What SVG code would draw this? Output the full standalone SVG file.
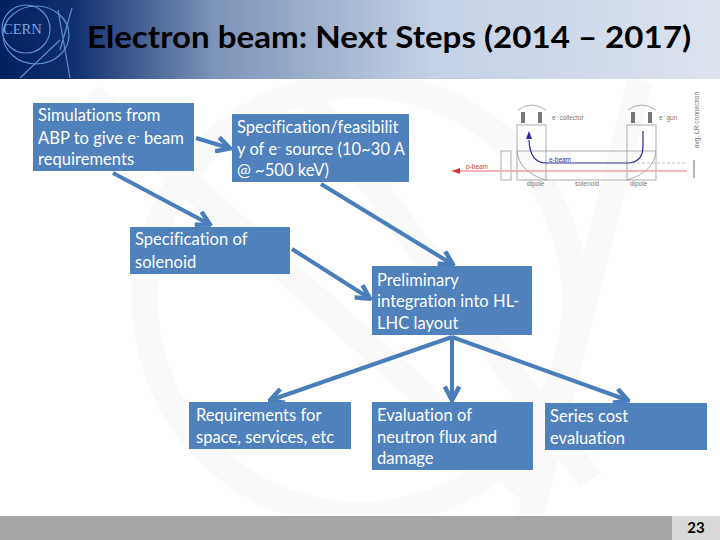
<svg xmlns="http://www.w3.org/2000/svg" width="720" height="540" viewBox="0 0 720 540">
<style>
.box{fill:#4f81bd}
.t{font-family:Lato,"Open Sans",sans-serif;font-size:16.5px;fill:#fff;letter-spacing:.04px;transform:translateY(.7px)}
.sup{font-size:10px}
.c{fill:none;stroke:#4a7ebb;stroke-width:4;marker-end:url(#ah)}
.logo{fill:none;stroke:#5f8fd0;stroke-width:1.2}
.wm{fill:none;stroke:#fafafa;stroke-width:26}
.d{fill:none;stroke:#999;stroke-width:.8}
.s{font-family:"Liberation Sans",sans-serif;font-size:6.5px;fill:#777}
</style>
<defs>
<linearGradient id="hd" x1="0" x2="1" y1="0" y2="0">
<stop offset="0" stop-color="#002060"/><stop offset=".1" stop-color="#0f2f6f"/><stop offset=".3" stop-color="#7f94ba"/><stop offset=".6" stop-color="#c4d0e4"/><stop offset="1" stop-color="#dde4f0"/>
</linearGradient>
<marker id="ah" markerUnits="userSpaceOnUse" markerWidth="18" markerHeight="18" refX="13" refY="8" orient="auto" viewBox="0 0 16 16">
<path d="M2 1.5L14 8L2 14.5" fill="none" stroke="#4a7ebb" stroke-width="4"/>
</marker>
</defs>
<rect width="720" height="540" fill="#fff"/>
<g id="watermark">
<ellipse cx="360" cy="300" rx="215" ry="215" class="wm"/>
<path class="wm" d="M90 95L540 500M640 80L530 520M300 85L590 480"/>
</g>
<g id="header">
<rect width="720" height="79" fill="url(#hd)"/>
<ellipse cx="26" cy="29" rx="24" ry="24" class="logo"/>
<ellipse cx="36" cy="35" rx="33" ry="29" class="logo"/>
<path class="logo" d="M20 78L60 40M58 10L70 78M72 8L60 50"/>
<text x="3" y="34" font-family="Liberation Serif,serif" font-size="14.5" fill="#7da6e0">CERN</text>
<text x="87" y="48" font-family="Lato,sans-serif" font-size="30" font-weight="700" fill="#000" textLength="604" lengthAdjust="spacingAndGlyphs">Electron beam: Next Steps (2014 – 2017)</text>
</g>
<g id="beam-figure">
<rect x="517" y="125" width="29" height="55" class="d"/>
<rect x="627" y="125" width="29" height="55" class="d"/>
<path class="d" d="M546 180H627M517 151H656M517 151Q519 172 546 180M656 151Q654 172 627 180M518 110Q531 100 546 110M628 110Q641 100 656 110"/>
<path d="M521 112H525V123H521ZM538 112H542V123H538ZM631 112H635V123H631ZM648 112H652V123H648Z" fill="#777"/>
<rect x="501" y="151" width="10" height="29" class="d"/>
<path d="M452 171H687" stroke="#f2a0a0" stroke-width="1.5"/>
<path d="M452 171L460 168V174Z" fill="#e03030"/>
<path d="M643 131V146Q643 163 627 163H546Q530 163 529 140" fill="none" stroke="#2a2a9a" stroke-width="1.2"/>
<path d="M529 131L526 139H532Z" fill="#2a2a9a"/>
<path d="M627 163H687" stroke="#999" stroke-width=".6" stroke-dasharray="3 2"/>
<path d="M694 160V178" stroke="#444" stroke-width=".8"/>
<text x="466" y="169" class="s" style="fill:#d04040">p-beam</text>
<text x="549" y="162" class="s" style="fill:#3030a0">e-beam</text>
<text x="552" y="120" class="s">e⁻ collector</text>
<text x="659" y="120" class="s">e⁻ gun</text>
<text x="527" y="186" class="s">dipole</text>
<text x="575" y="186" class="s">solenoid</text>
<text x="630" y="186" class="s">dipole</text>
<text x="699" y="148" class="s" transform="rotate(-90 699 148)">avg. LR-connection</text>
</g>
<g id="connectors">
<path class="c" d="M196 138L229 148"/>
<path class="c" d="M113 173L209 224"/>
<path class="c" d="M321 184L452 264"/>
<path class="c" d="M292 249L369 298"/>
<path class="c" d="M452 337L271 400"/>
<path class="c" d="M452 337V399"/>
<path class="c" d="M452 337L627 400"/>
</g>
<g id="n1"><rect class="box" x="33" y="103" width="161" height="68"/>
<text class="t" x="38" y="120">Simulations from</text>
<text class="t" x="38" y="143">ABP to give e<tspan class="sup" dy="-5">-</tspan><tspan dy="5"> beam</tspan></text>
<text class="t" x="38" y="164">requirements</text></g>
<g id="n2"><rect class="box" x="232" y="114" width="177" height="68"/>
<text class="t" x="237" y="132">Specification/feasibilit</text>
<text class="t" x="237" y="154">y of e<tspan class="sup" dy="-5">-</tspan><tspan dy="5"> source (10~30 A</tspan></text>
<text class="t" x="237" y="175">@ ~500 keV)</text></g>
<g id="n3"><rect class="box" x="130" y="227" width="160" height="47"/>
<text class="t" x="135" y="244">Specification of</text>
<text class="t" x="135" y="267">solenoid</text></g>
<g id="n4"><rect class="box" x="372" y="266" width="160" height="69"/>
<text class="t" x="377" y="285">Preliminary</text>
<text class="t" x="377" y="306">integration into HL-</text>
<text class="t" x="377" y="328">LHC layout</text></g>
<g id="n5"><rect class="box" x="189" y="402" width="162" height="47"/>
<text class="t" x="196" y="420">Requirements for</text>
<text class="t" x="196" y="442">space, services, etc</text></g>
<g id="n6"><rect class="box" x="372" y="402" width="161" height="68"/>
<text class="t" x="377" y="420">Evaluation of</text>
<text class="t" x="377" y="442">neutron flux and</text>
<text class="t" x="377" y="463">damage</text></g>
<g id="n7"><rect class="box" x="545" y="403" width="162" height="47"/>
<text class="t" x="550" y="421">Series cost</text>
<text class="t" x="550" y="443">evaluation</text></g>
<g id="footer">
<rect x="0" y="516" width="672" height="24" fill="#a6a6a6"/>
<rect x="672" y="516" width="48" height="24" fill="#d9d9d9"/>
<text x="696" y="533" text-anchor="middle" font-family="Lato,sans-serif" font-size="15" font-weight="700" fill="#000">23</text>
</g>
</svg>
